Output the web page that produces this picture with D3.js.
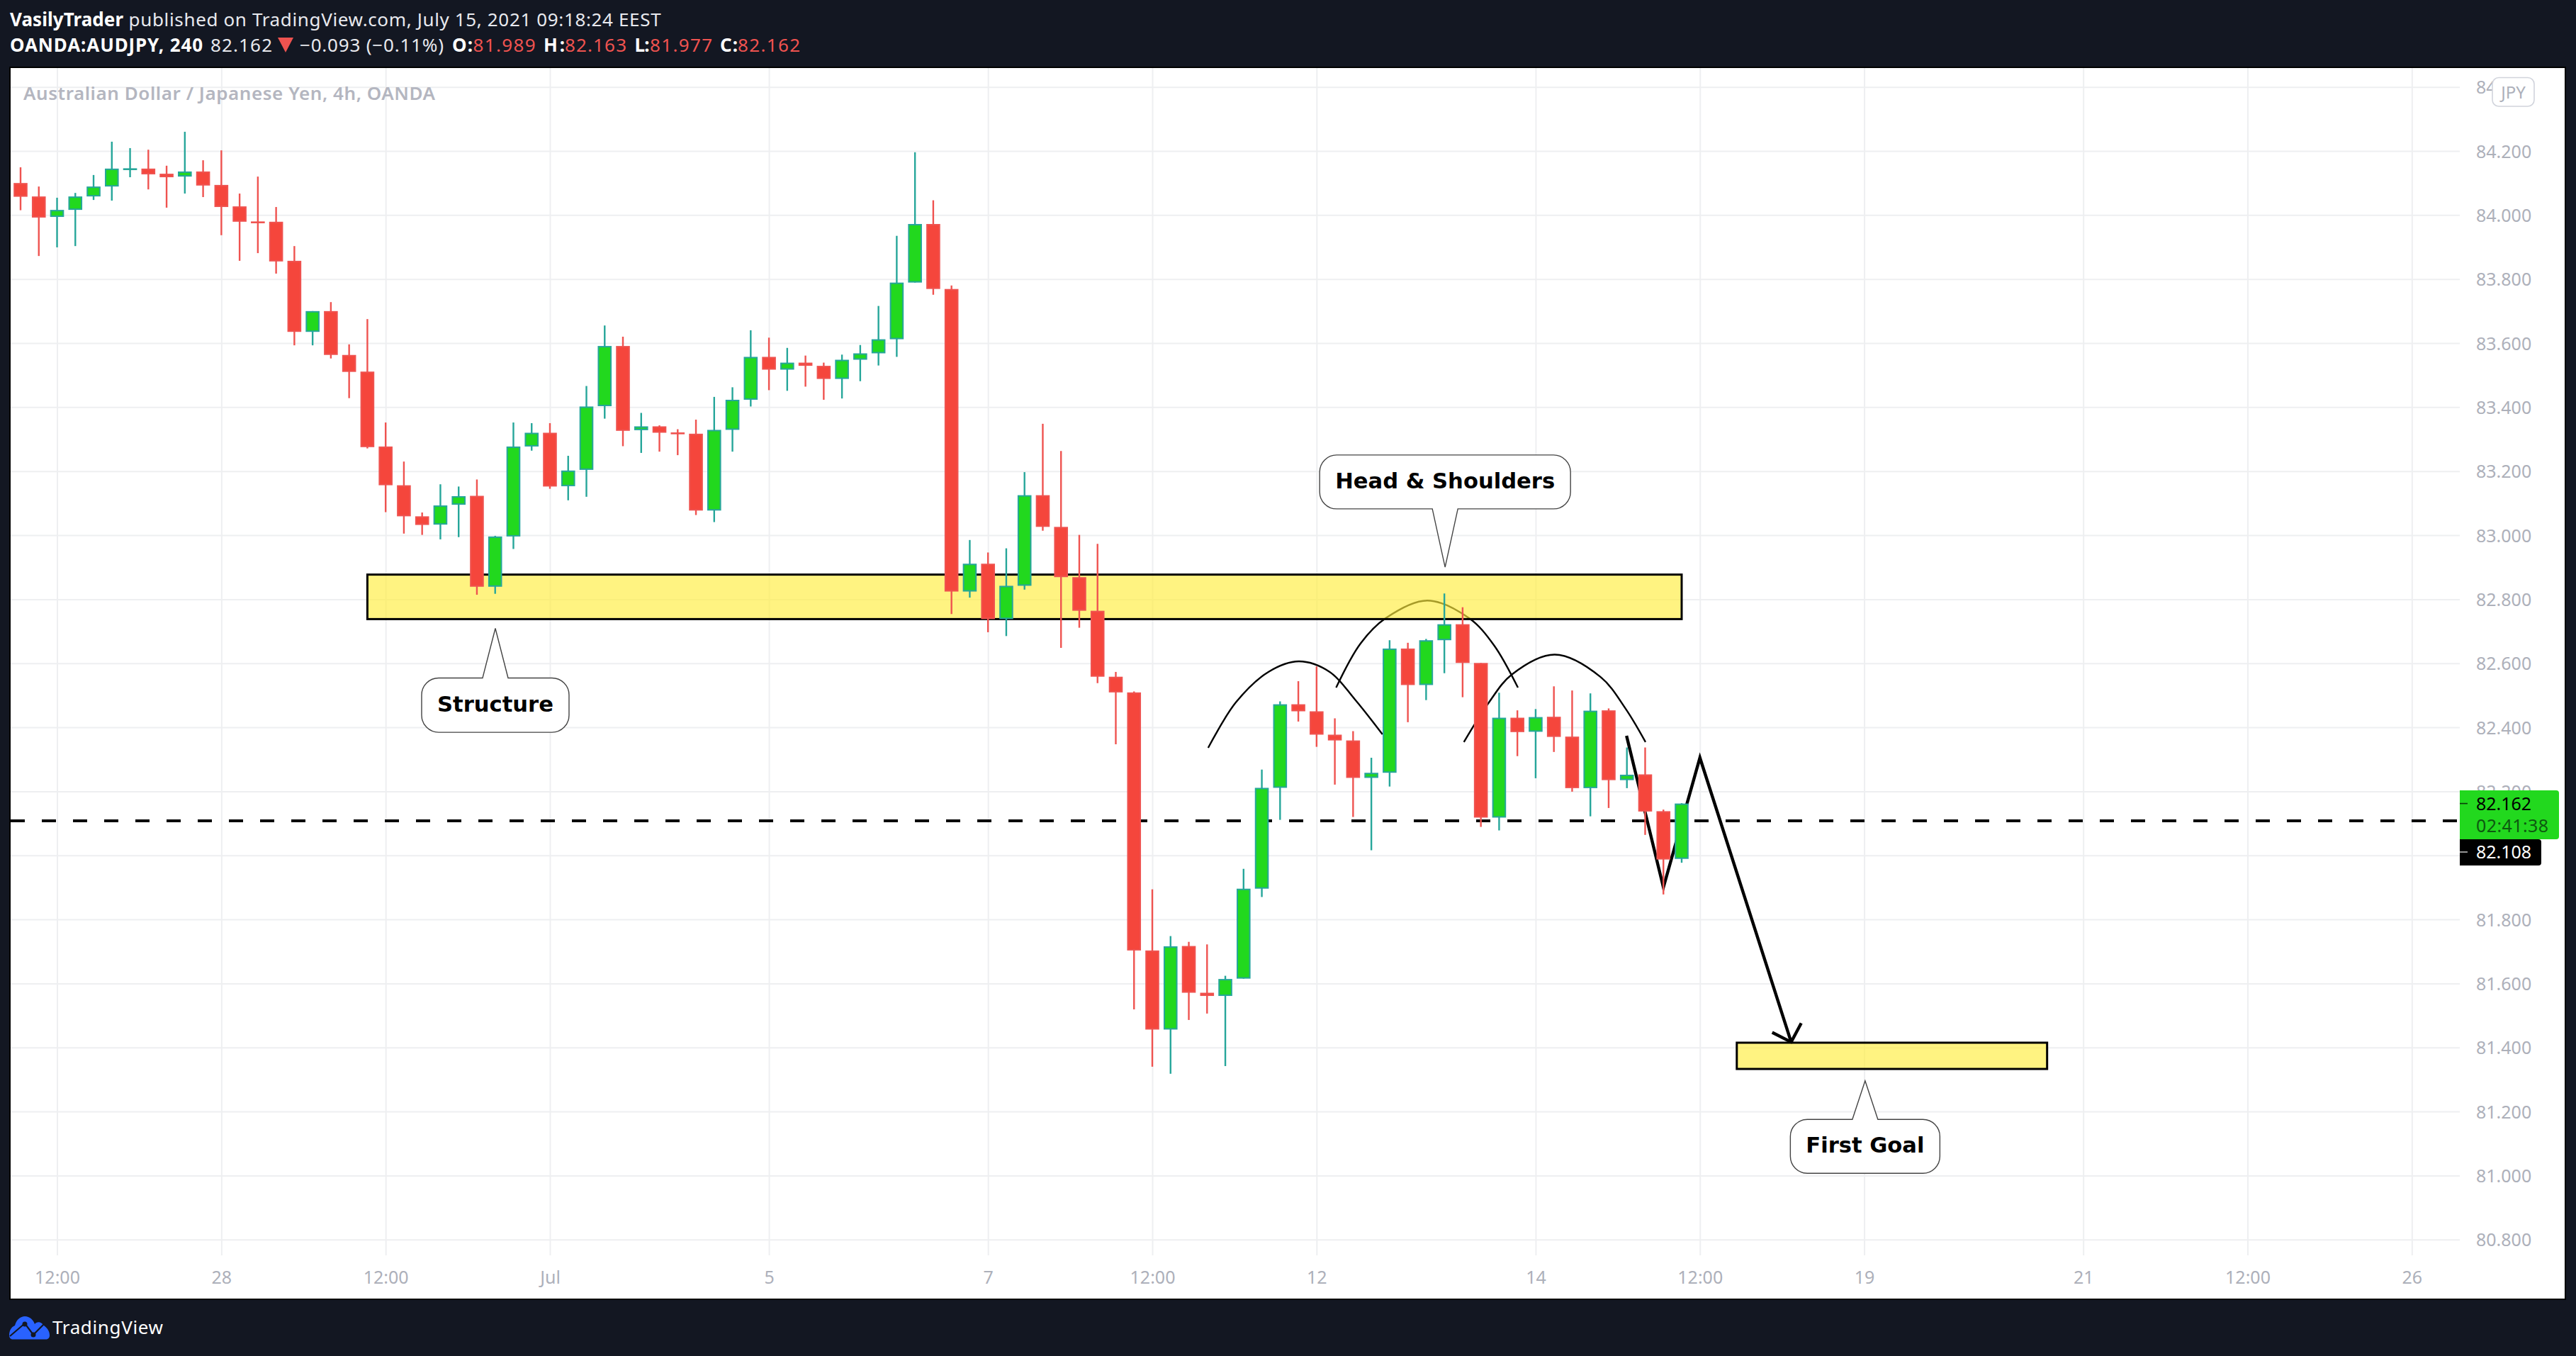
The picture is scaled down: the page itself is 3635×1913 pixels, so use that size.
<!DOCTYPE html>
<html><head><meta charset="utf-8">
<script src="https://cdn.jsdelivr.net/npm/d3@7/dist/d3.min.js"></script>
<style>html,body{margin:0;padding:0;background:#131722;overflow:hidden}svg{display:block}</style>
</head><body><div id="c"></div>
<script>
const opens=[84.100,84.058,83.994,84.016,84.058,84.089,84.141,84.145,84.129,84.120,84.136,84.094,84.027,83.980,83.979,83.857,83.635,83.700,83.563,83.511,83.277,83.156,83.059,83.033,83.095,83.123,82.839,82.996,83.277,83.320,83.153,83.204,83.403,83.591,83.328,83.340,83.321,83.317,83.077,83.329,83.423,83.557,83.517,83.539,83.529,83.488,83.548,83.568,83.612,83.789,83.972,83.769,82.824,82.911,82.738,82.842,83.125,83.026,82.869,82.764,82.558,82.509,81.703,81.456,81.717,81.571,81.561,81.615,81.896,82.211,82.472,82.450,82.377,82.359,82.242,82.258,82.646,82.532,82.672,82.722,82.601,82.118,82.430,82.386,82.433,82.371,82.210,82.453,82.235,82.253,82.138,81.989];
const highs=[84.149,84.089,84.054,84.069,84.125,84.229,84.209,84.204,84.154,84.260,84.171,84.202,84.067,84.120,84.025,83.903,83.700,83.728,83.596,83.675,83.352,83.230,83.071,83.159,83.152,83.174,82.998,83.352,83.350,83.350,83.248,83.466,83.655,83.620,83.382,83.343,83.331,83.361,83.432,83.462,83.640,83.617,83.585,83.561,83.539,83.564,83.594,83.716,83.935,84.196,84.046,83.780,82.985,82.946,82.959,83.197,83.348,83.263,83.001,82.973,82.573,82.512,81.894,81.748,81.730,81.722,81.624,81.958,82.268,82.481,82.544,82.590,82.428,82.388,82.305,82.672,82.664,82.676,82.818,82.775,82.601,82.508,82.453,82.457,82.528,82.515,82.506,82.459,82.337,82.337,82.143,82.163];
const lows=[84.015,83.872,83.899,83.903,84.047,84.045,84.118,84.080,84.023,84.067,84.056,83.937,83.857,83.881,83.817,83.593,83.593,83.552,83.428,83.271,83.072,83.005,83.001,82.987,82.994,82.814,82.817,82.957,83.264,83.145,83.109,83.120,83.364,83.278,83.257,83.261,83.250,83.063,83.041,83.261,83.402,83.453,83.451,83.464,83.423,83.427,83.481,83.530,83.557,83.789,83.751,82.754,82.805,82.697,82.685,82.830,83.014,82.648,82.711,82.538,82.347,81.519,81.340,81.318,81.486,81.506,81.342,81.615,81.870,82.111,82.418,82.339,82.221,82.120,82.016,82.215,82.416,82.485,82.569,82.494,82.089,82.078,82.310,82.241,82.323,82.199,82.122,82.148,82.210,82.064,81.878,81.977];
const closes=[84.057,83.992,84.016,84.058,84.089,84.145,84.146,84.127,84.118,84.136,84.092,84.025,83.979,83.976,83.855,83.635,83.700,83.563,83.510,83.275,83.156,83.059,83.032,83.093,83.122,82.839,82.996,83.277,83.320,83.152,83.202,83.402,83.591,83.326,83.340,83.320,83.317,83.077,83.329,83.423,83.557,83.517,83.539,83.529,83.488,83.548,83.568,83.612,83.789,83.972,83.769,82.824,82.911,82.738,82.842,83.125,83.026,82.869,82.764,82.558,82.509,81.703,81.456,81.716,81.571,81.561,81.614,81.896,82.211,82.472,82.450,82.377,82.359,82.242,82.258,82.646,82.532,82.672,82.722,82.601,82.118,82.430,82.385,82.432,82.370,82.210,82.452,82.235,82.252,82.137,81.987,82.162];

const priceTicks=[84.4,84.2,84.0,83.8,83.6,83.4,83.2,83.0,82.8,82.6,82.4,82.2,82.0,81.8,81.6,81.4,81.2,81.0,80.8];
const timeTickBars=[2,11,20,29,41,53,62,71,83,92,101,113,122,131];
const timeTickLabels=["12:00","28","12:00","Jul","5","7","12:00","12","14","12:00","19","21","12:00","26"];

const zones=[{b0:19,b1:91,top:82.877,bottom:82.738},{b0:94.02,b1:111.02,top:81.415,bottom:81.333}];
const shoulderLeft=[[65.06,82.336],[66.58,82.478],[68.36,82.573],[70.03,82.606],[71.72,82.573],[73.1,82.487],[74.61,82.378]];
const shoulderHead=[[72.07,82.524],[73.41,82.662],[74.79,82.741],[77.06,82.796],[79.35,82.741],[80.71,82.657],[82.03,82.524]];
const shoulderRight=[[79.07,82.354],[80.42,82.476],[81.70,82.565],[84.05,82.627],[86.56,82.557],[87.93,82.458],[89.02,82.354]];
const zigzag=[[87.98,82.3735],[90.0,81.900],[92.0,82.305],[97.0,81.417]];
const arrowWings=[[95.96,81.447],[97.0,81.417],[97.55,81.476]];
const bubbles=[
 {text:"Structure",bar:26.01,price:82.709,w:208,h:76.6,gap:70,dir:1},
 {text:"Head & Shoulders",bar:78.04,price:82.900,w:354,h:76,gap:82.3,dir:-1},
 {text:"First Goal",bar:101.05,price:81.296,w:211,h:76,gap:54.5,dir:1}
];
const lastPrice=82.162, countdown="02:41:38", linePrice=82.108;

const W=3635,H=1913;
const pane={l:15,r:3620,t:96,b:1832,axisX:3471,axisY:1771};
const GREEN="#22d81e",TEAL="#26a69a",RED="#f5463c",REDL="#ef5350",AXIS="#adb0ba",GRID="#eeeff1",DARK="#131722";
const SANS="'Noto Sans','Open Sans',sans-serif";

const x=d3.scaleLinear().domain([0,91]).range([29,2373]);
const y=d3.scaleLinear().domain([84.2,80.8]).range([213,1748.8]);

const svg=d3.select("#c").append("svg").attr("width",W).attr("height",H).attr("viewBox",`0 0 ${W} ${H}`);
svg.append("rect").attr("width",W).attr("height",H).attr("fill",DARK);
svg.append("rect").attr("x",pane.l-1).attr("y",pane.t-1).attr("width",pane.r-pane.l+1).attr("height",pane.b-pane.t+2).attr("fill","#fff").attr("stroke","#000").attr("stroke-width",2);

// grid
const gy=svg.append("g").attr("transform",`translate(${pane.l},0)`)
 .call(d3.axisRight(y).tickValues(priceTicks).tickSize(pane.axisX-pane.l).tickFormat(""));
gy.select(".domain").remove();
gy.selectAll("line").attr("stroke",GRID).attr("stroke-width",2);
const gx=svg.append("g").attr("transform",`translate(0,${pane.t})`)
 .call(d3.axisBottom(x).tickValues(timeTickBars).tickSize(pane.axisY-pane.t).tickFormat(""));
gx.select(".domain").remove();
gx.selectAll("line").attr("stroke",GRID).attr("stroke-width",2);

// axes
const ay=svg.append("g").attr("transform",`translate(${pane.axisX},0)`)
 .call(d3.axisRight(y).tickValues(priceTicks).tickSize(0).tickPadding(23).tickFormat(d3.format(".3f")));
ay.select(".domain").remove();
ay.selectAll("text").attr("fill",AXIS).style("font-family",SANS).style("font-size","25px").attr("dy","0.36em");
const ax=svg.append("g").attr("transform",`translate(0,${pane.axisY})`)
 .call(d3.axisBottom(x).tickValues(timeTickBars).tickSize(0).tickPadding(0).tickFormat((d,i)=>timeTickLabels[i]));
ax.select(".domain").remove();
ax.selectAll("text").attr("fill",AXIS).style("font-family",SANS).style("font-size","25px").attr("y",31).attr("dy","0.36em");

// drawings (below the candles)
const curve=d3.line().x(d=>x(d[0])).y(d=>y(d[1])).curve(d3.curveCatmullRom.alpha(0.5));
const straight=d3.line().x(d=>x(d[0])).y(d=>y(d[1]));
[shoulderLeft,shoulderHead,shoulderRight].forEach(a=>{
 svg.append("path").attr("d",curve(a)).attr("fill","none").attr("stroke","#000").attr("stroke-width",2.4);
});
svg.append("path").attr("d",straight(zigzag)).attr("fill","none").attr("stroke","#000").attr("stroke-width",4.4).attr("stroke-linejoin","miter");
svg.append("path").attr("d",straight(arrowWings)).attr("fill","none").attr("stroke","#000").attr("stroke-width",4.4);
svg.append("line").attr("x1",pane.l).attr("x2",pane.axisX).attr("y1",y(linePrice)).attr("y2",y(linePrice))
 .attr("stroke","#000").attr("stroke-width",4).attr("stroke-dasharray","20 24");
svg.append("g").selectAll("rect").data(zones).join("rect")
 .attr("x",d=>x(d.b0)).attr("y",d=>y(d.top)).attr("width",d=>x(d.b1)-x(d.b0)).attr("height",d=>y(d.bottom)-y(d.top))
 .attr("fill","#ffec3d").attr("fill-opacity",0.65).attr("stroke","#000").attr("stroke-width",3);

// candles
const idx=d3.range(opens.length);
const up=i=>closes[i]>=opens[i];
svg.append("g").selectAll("line").data(idx).join("line")
 .attr("x1",i=>x(i)).attr("x2",i=>x(i)).attr("y1",i=>y(highs[i])).attr("y2",i=>y(lows[i]))
 .attr("stroke",i=>up(i)?TEAL:REDL).attr("stroke-width",2.4);
svg.append("g").selectAll("rect").data(idx).join("rect")
 .attr("x",i=>x(i)-8.8).attr("width",17.6)
 .attr("y",i=>y(Math.max(opens[i],closes[i]))+1)
 .attr("height",i=>Math.max(Math.abs(y(opens[i])-y(closes[i]))-2,0.6))
 .attr("fill",i=>up(i)?GREEN:RED).attr("stroke",i=>up(i)?TEAL:REDL).attr("stroke-width",2);

// callouts
function bubblePath(tx,ty,w,h,gap,dir){
 const r=24,bw=18,l=tx-w/2,rr=tx+w/2;
 const near=ty+dir*gap, far=near+dir*h, s=dir>0?1:0;
 return `M${tx},${ty}L${tx+bw},${near}L${rr-r},${near}A${r},${r} 0 0 ${s} ${rr},${near+dir*r}L${rr},${far-dir*r}`+
  `A${r},${r} 0 0 ${s} ${rr-r},${far}L${l+r},${far}A${r},${r} 0 0 ${s} ${l},${far-dir*r}L${l},${near+dir*r}A${r},${r} 0 0 ${s} ${l+r},${near}L${tx-bw},${near}Z`;
}
const gb=svg.append("g").selectAll("g").data(bubbles).join("g");
gb.append("path").attr("d",d=>bubblePath(x(d.bar),y(d.price),d.w,d.h,d.gap,d.dir)).attr("fill","#fff").attr("stroke","#444").attr("stroke-width",1.4);
gb.append("text").attr("x",d=>x(d.bar)).attr("y",d=>y(d.price)+d.dir*(d.gap+d.h/2)-2).attr("dy","0.36em")
 .attr("text-anchor","middle").attr("fill","#000").style("font-family","'DejaVu Sans',sans-serif").style("font-weight",700).style("font-size","30.6px").text(d=>d.text);

// chart title
function label(t,xp,yc,len,size,fill,weight){
 const s=svg.append("text").attr("x",xp).attr("y",yc).attr("dy","0.36em").attr("fill",fill).style("font-family",SANS)
  .style("font-size",size+"px").style("font-weight",weight||400).text(t);
 if(len) s.attr("textLength",len).attr("lengthAdjust","spacing");
 return s;
}
label("Australian Dollar / Japanese Yen, 4h, OANDA",33,132,581,26,"#b4b6c0",600);

// header
const HW="#e8e9ee";
label("VasilyTrader",14,28,160,26,"#fff",700);
label("published on TradingView.com, July 15, 2021 09:18:24 EEST",181.6,28,751,26,HW);
label("OANDA:AUDJPY, 240",14,64,272,26,"#fff",700);
label(String(lastPrice),297,64,87,26,HW);
svg.append("path").attr("d","M392,53L414,53L403,74Z").attr("fill",REDL);
label("\u22120.093 (\u22120.11%)",423,64,203,26,HW);
[["O:",638,29,opens[91].toFixed(3),667.5,88],["H:",767,30,highs[91].toFixed(3),797,87],["L:",895.5,21,lows[91].toFixed(3),917,88],["C:",1016,25,closes[91].toFixed(3),1041,88]]
 .forEach(a=>{label(a[0],a[1],64,a[2],26,"#fff",700);label(a[3],a[4],64,a[5],26,REDL);});

// footer logo
svg.append("path").attr("fill","#2962ff").attr("d","M13,1884C13,1877 16,1872 21,1870C23,1862 29,1857 35,1857C42,1857 47,1862 49,1868C52,1864 58,1864 62,1870C67,1874 70,1878 70,1884C70,1887 68,1889.5 65,1889.5L18,1889.5C15,1889.5 13,1887 13,1884Z");
svg.append("path").attr("fill","none").attr("stroke",DARK).attr("stroke-width",2.2).attr("d","M14,1885L35,1867L47,1883L63,1867");
svg.append("circle").attr("cx",35).attr("cy",1868).attr("r",3.5).attr("fill",DARK);
svg.append("circle").attr("cx",47).attr("cy",1883).attr("r",3.5).attr("fill",DARK);
label("TradingView",74,1873,156,26,"#fff");

// price-scale tags
svg.append("path").attr("fill",GREEN).attr("d",`M${pane.axisX},1115H3607a4,4 0 0 1 4,4V1180a4,4 0 0 1 -4,4H${pane.axisX}Z`);
svg.append("path").attr("fill","#000").attr("d",`M${pane.axisX},1184H3582a4,4 0 0 1 4,4V1217a4,4 0 0 1 -4,4H${pane.axisX}Z`);
svg.append("line").attr("x1",pane.axisX).attr("x2",3482).attr("y1",y(lastPrice)).attr("y2",y(lastPrice)).attr("stroke","#0a3a0a").attr("stroke-width",1.6);
svg.append("line").attr("x1",pane.axisX).attr("x2",3482).attr("y1",1202).attr("y2",1202).attr("stroke","#bbb").attr("stroke-width",1.6);
label(lastPrice.toFixed(3),3494,y(lastPrice),78,25,"#000");
label(countdown,3494,1165,102,25,"#0d5a10");
label(linePrice.toFixed(3),3494,1202,78,25,"#fff");
svg.append("rect").attr("x",3517).attr("y",109.5).attr("width",59).attr("height",40.5).attr("rx",9).attr("fill","#fff").attr("stroke","#d1d4dc").attr("stroke-width",1.6);
svg.append("text").attr("x",3546.5).attr("y",130).attr("dy","0.36em").attr("text-anchor","middle").attr("fill",AXIS).style("font-family",SANS).style("font-size","24px").text("JPY");
</script></body></html>
